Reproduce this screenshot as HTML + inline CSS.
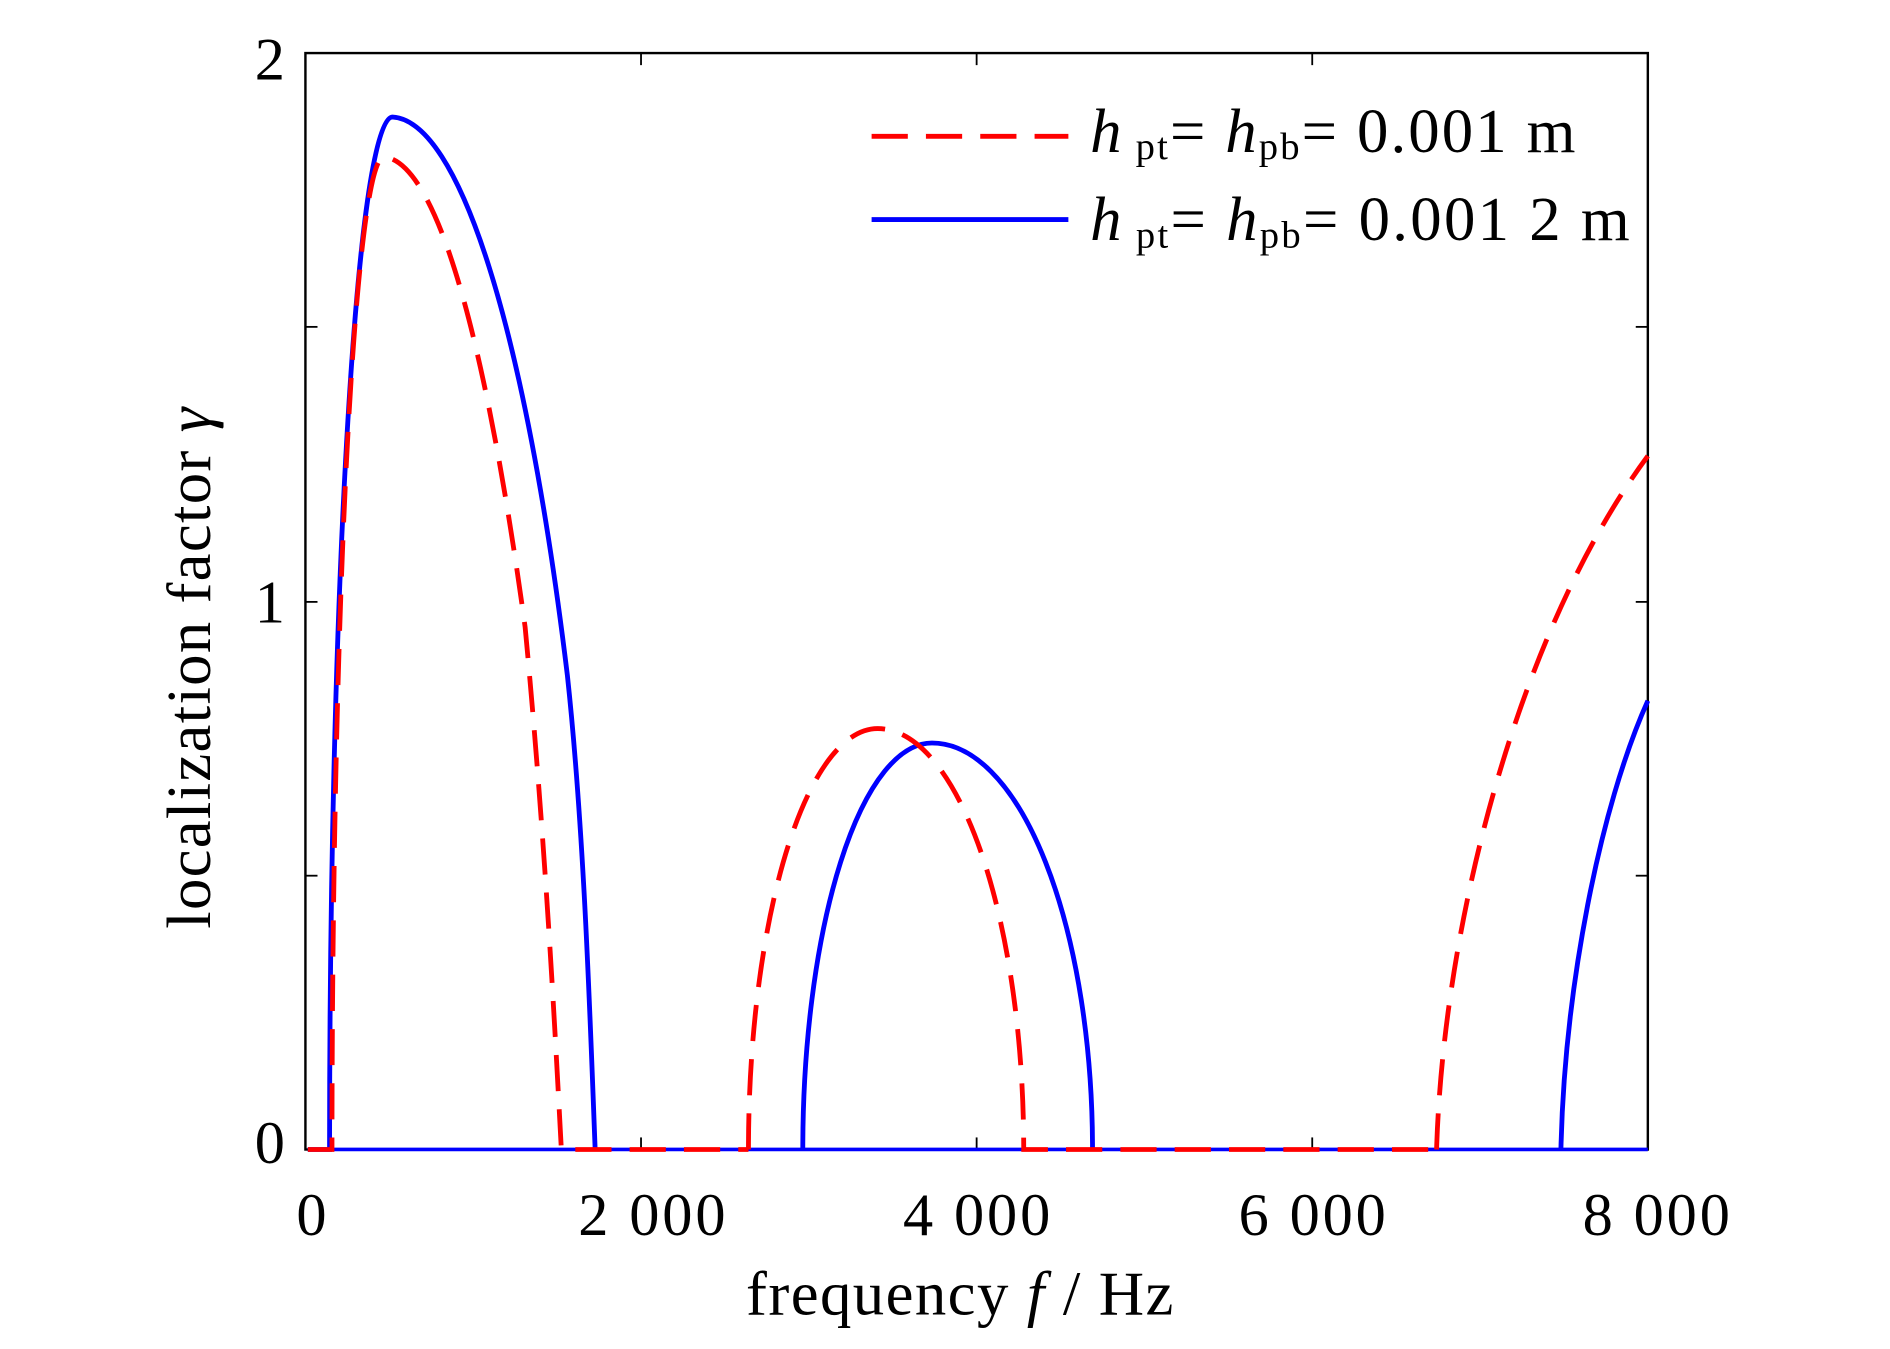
<!DOCTYPE html>
<html><head><style>
html,body{margin:0;padding:0;background:#fff;}
svg{display:block;}
text{font-family:"Liberation Serif",serif;fill:#000;}
</style></head><body>
<svg width="1890" height="1349" viewBox="0 0 1565.6 1118.4" preserveAspectRatio="none" xmlns="http://www.w3.org/2000/svg">
<rect x="0" y="0" width="1570" height="1119" fill="#fff"/>
<rect x="253" y="44" width="1112" height="909" fill="none" stroke="#000" stroke-width="2"/>
<g stroke="#000" stroke-width="1.5">
<line x1="531" y1="953" x2="531" y2="943"/><line x1="531" y1="44" x2="531" y2="54"/>
<line x1="809" y1="953" x2="809" y2="943"/><line x1="809" y1="44" x2="809" y2="54"/>
<line x1="1087" y1="953" x2="1087" y2="943"/><line x1="1087" y1="44" x2="1087" y2="54"/>
<line x1="253" y1="726" x2="263" y2="726"/><line x1="1365" y1="726" x2="1355" y2="726"/>
<line x1="253" y1="499" x2="263" y2="499"/><line x1="1365" y1="499" x2="1355" y2="499"/>
<line x1="253" y1="271" x2="263" y2="271"/><line x1="1365" y1="271" x2="1355" y2="271"/>
</g>
<g font-size="50" text-anchor="middle">
<text x="258" y="1024">0</text>
<text x="540" y="1024" textLength="122">2 000</text>
<text x="809" y="1024" textLength="122">4 000</text>
<text x="1087" y="1024" textLength="122">6 000</text>
<text x="1372" y="1024" textLength="122">8 000</text>
</g>
<g font-size="50" text-anchor="end">
<text x="236" y="964">0</text>
<text x="236" y="516">1</text>
<text x="236" y="66">2</text>
</g>
<text x="618" y="1090" font-size="52" textLength="354">frequency <tspan font-style="italic">f</tspan> / Hz</text>
<text transform="translate(174,770) rotate(-90)" font-size="52" textLength="432">localization factor <tspan font-style="italic">γ</tspan></text>
<line x1="255" y1="953" x2="1365" y2="953" stroke="#0000ff" stroke-width="3"/>
<g fill="none" stroke="#0000ff" stroke-width="4">
<path d="M255 953 L273 953 A52 856 0 0 1 325 97 C380 100 435 270 470 560 C484 690 489 850 493 953"/>
<path d="M665 953 A107 337 0 0 1 772 616 A133 337 0 0 1 905 953"/>
<path d="M1293 953 C1296 820 1325 670 1365 581"/>
</g>
<g fill="none" stroke="#ff0000" stroke-width="4" stroke-dasharray="30 15">
<path d="M255 953 L275 953 A43 823 0 0 1 318 130 C365 135 405 300 435 520 C452 700 460 860 465 953 L620 953"/>
<path d="M620 953 A107 349 0 0 1 727 604 A121 349 0 0 1 848 953 L1190 953"/>
<path d="M1190 953 C1196 760 1260 520 1365 378"/>
</g>
<line x1="722" y1="113" x2="885" y2="113" stroke="#ff0000" stroke-width="4" stroke-dasharray="30 15"/>
<line x1="722" y1="182" x2="885" y2="182" stroke="#0000ff" stroke-width="4"/>
<g font-size="52">
<text x="903" y="126" textLength="402"><tspan font-style="italic">h</tspan><tspan font-size="32" dx="10" dy="6">pt</tspan><tspan dy="-6">= </tspan><tspan font-style="italic">h</tspan><tspan font-size="32" dy="6">pb</tspan><tspan dy="-6">= 0.001 m</tspan></text>
<text x="903" y="199" textLength="447"><tspan font-style="italic">h</tspan><tspan font-size="32" dx="10" dy="6">pt</tspan><tspan dy="-6">= </tspan><tspan font-style="italic">h</tspan><tspan font-size="32" dy="6">pb</tspan><tspan dy="-6">= 0.001 2 m</tspan></text>
</g>
</svg>
</body></html>
